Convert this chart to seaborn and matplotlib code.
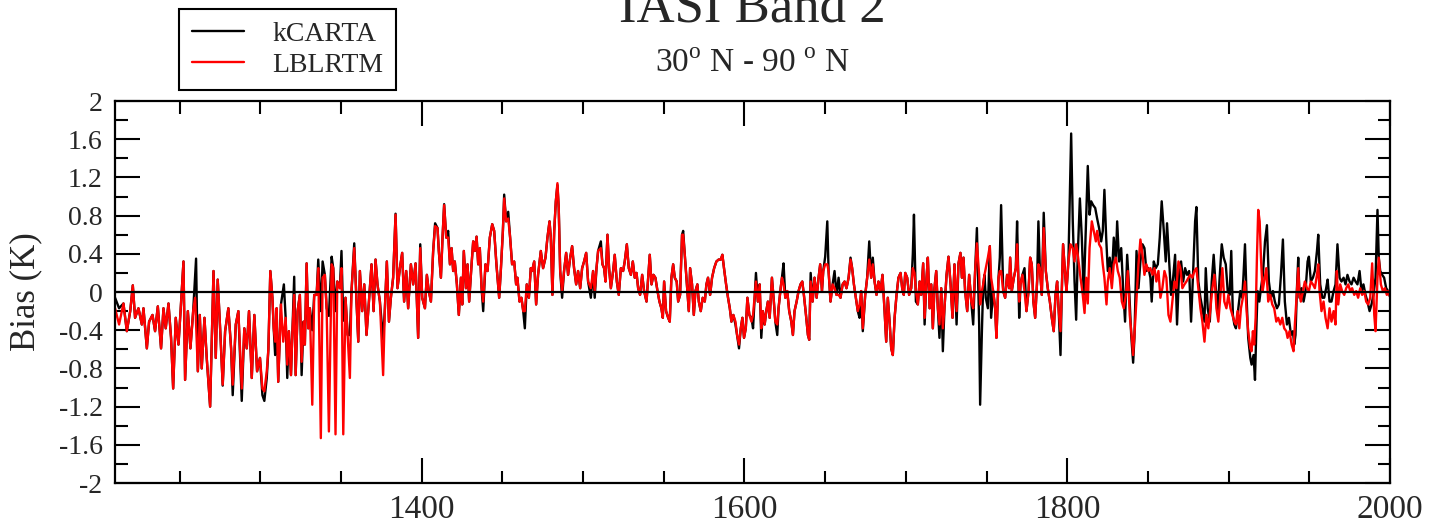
import numpy as np
import pandas as pd
import seaborn as sns
import matplotlib.pyplot as plt
from matplotlib.ticker import MultipleLocator, FuncFormatter

# (wavenumber, bias) vertices
lblrtm_pts = [
    (1210.0, -0.17), (1212.5, -0.34), (1215.2, -0.12), (1217.3, -0.41), (1219.4, -0.20),
    (1221.0, 0.07), (1222.4, -0.27), (1224.5, -0.17), (1226.6, -0.34), (1227.6, -0.17),
    (1229.7, -0.59), (1231.1, -0.31), (1233.2, -0.24), (1234.8, -0.41), (1236.5, -0.15),
    (1238.5, -0.59), (1240.0, -0.17), (1241.4, -0.38), (1243.1, -0.12), (1244.7, -0.48),
    (1246.0, -1.01), (1247.6, -0.27), (1249.3, -0.55), (1250.7, -0.17), (1252.4, 0.32),
    (1253.4, -0.92), (1255.1, -0.20), (1256.7, -0.59), (1258.4, -0.20), (1259.6, -0.06),
    (1261.3, -0.83), (1262.5, -0.24), (1263.7, -0.80), (1265.4, -0.27), (1266.8, -0.69),
    (1268.9, -1.20), (1271.0, 0.22), (1272.4, -0.69), (1273.6, 0.13), (1275.1, -0.38),
    (1276.7, -0.97), (1278.2, -0.41), (1280.2, -0.17), (1281.9, -0.59), (1282.9, -0.97),
    (1284.8, -0.34), (1286.4, -0.20), (1288.5, -1.01), (1290.1, -0.38), (1291.6, -0.59),
    (1293.0, -0.20), (1294.7, -0.90), (1296.3, -0.24), (1298.0, -0.83), (1299.8, -0.69),
    (1301.3, -1.01), (1302.5, -1.04), (1304.0, -0.83), (1305.0, -0.60), (1306.2, 0.22),
    (1307.5, -0.06), (1308.3, -0.38), (1309.2, -0.52), (1310.1, -0.17), (1311.1, -0.94),
    (1312.8, -0.13), (1314.2, -0.52), (1315.7, -0.27), (1316.7, -0.76), (1317.7, -0.41),
    (1319.0, -0.87), (1319.8, -0.45), (1321.0, -0.03), (1321.9, -0.87), (1323.1, -0.20),
    (1324.5, -0.03), (1325.6, -0.73), (1326.8, -0.31), (1327.6, -0.55), (1328.7, 0.30),
    (1329.7, -0.38), (1330.7, -0.17), (1332.2, -1.18), (1333.4, -0.03), (1334.9, -0.03),
    (1335.9, 0.25), (1337.5, -1.53), (1338.6, 0.15), (1340.0, 0.18), (1341.1, -0.17),
    (1342.5, -1.46), (1344.2, 0.29), (1345.2, 0.25), (1346.6, -1.49), (1347.7, 0.11),
    (1349.3, 0.04), (1350.3, 0.25), (1351.4, -1.49), (1352.8, -0.06), (1354.1, -0.45),
    (1355.5, -0.90), (1356.5, 0.01), (1358.2, 0.46), (1359.6, -0.10), (1360.7, -0.52),
    (1361.7, 0.22), (1363.1, -0.20), (1364.4, 0.08), (1365.8, -0.45), (1367.3, -0.10),
    (1368.9, 0.29), (1370.2, -0.20), (1371.4, 0.34), (1372.6, 0.08), (1374.1, -0.10),
    (1376.1, -0.87), (1377.2, -0.17), (1378.4, 0.32), (1379.7, -0.31), (1380.9, -0.06),
    (1382.3, 0.15), (1383.8, 0.81), (1385.0, 0.04), (1386.5, 0.25), (1387.9, 0.41),
    (1389.1, -0.10), (1390.4, 0.22), (1391.6, -0.17), (1393.3, 0.29), (1394.7, 0.08),
    (1396.2, 0.30), (1397.8, -0.48), (1399.1, 0.46), (1400.3, -0.06), (1402.0, -0.17),
    (1403.2, 0.18), (1404.4, 0.01), (1405.7, -0.10), (1407.1, 0.43), (1408.3, 0.69),
    (1409.8, 0.67), (1410.6, 0.43), (1411.9, 0.15), (1412.9, 0.57), (1413.9, 0.91),
    (1415.2, 0.57), (1416.4, 0.57), (1417.5, 0.29), (1418.5, 0.46), (1419.5, 0.22),
    (1420.5, 0.32), (1421.8, 0.08), (1423.0, -0.24), (1424.3, 0.15), (1425.1, -0.13),
    (1426.1, 0.43), (1427.4, 0.04), (1428.4, 0.29), (1429.4, -0.10), (1430.9, 0.29),
    (1431.9, 0.53), (1432.9, 0.43), (1434.0, 0.58), (1435.0, 0.29), (1436.0, 0.46),
    (1437.1, 0.04), (1438.1, -0.10), (1439.5, 0.29), (1440.8, 0.22), (1442.2, 0.57),
    (1443.7, 0.71), (1444.9, 0.64), (1446.3, 0.29), (1448.0, -0.06), (1449.0, 0.22),
    (1450.3, 0.64), (1451.1, 0.98), (1452.3, 0.74), (1453.6, 0.77), (1454.8, 0.57),
    (1456.0, 0.29), (1457.3, 0.32), (1458.5, 0.08), (1459.3, 0.15), (1460.6, -0.10),
    (1461.8, -0.06), (1462.9, -0.20), (1463.9, -0.20), (1465.1, 0.08), (1466.4, -0.06),
    (1467.6, 0.25), (1468.4, 0.22), (1469.7, 0.32), (1470.9, -0.13), (1472.1, 0.18),
    (1473.8, 0.43), (1475.2, 0.25), (1476.7, 0.36), (1477.9, 0.57), (1479.2, 0.74),
    (1480.0, 0.57), (1481.0, -0.03), (1482.1, 0.64), (1483.1, 0.95), (1484.1, 1.14),
    (1484.9, 0.88), (1485.8, 0.22), (1487.0, 0.01), (1488.2, 0.22), (1489.5, 0.41),
    (1490.7, 0.18), (1492.0, 0.36), (1493.2, 0.48), (1494.4, 0.25), (1495.7, 0.08),
    (1496.9, 0.22), (1498.2, 0.04), (1499.4, 0.25), (1500.6, 0.32), (1501.9, 0.41),
    (1503.1, 0.11), (1504.8, 0.04), (1506.2, 0.22), (1507.2, 0.01), (1508.3, 0.25),
    (1509.3, 0.43), (1511.0, 0.46), (1512.0, 0.29), (1513.0, 0.25), (1513.9, 0.11),
    (1515.1, 0.60), (1516.1, 0.25), (1517.2, 0.04), (1518.6, 0.22), (1519.6, 0.39),
    (1520.9, 0.11), (1522.1, -0.03), (1523.4, 0.25), (1524.8, 0.22), (1525.8, 0.32),
    (1527.1, 0.50), (1528.3, 0.25), (1529.6, 0.18), (1530.8, 0.32), (1532.0, 0.15),
    (1533.1, 0.20), (1534.1, 0.04), (1535.3, -0.03), (1536.6, 0.18), (1537.8, 0.01),
    (1539.3, -0.10), (1540.3, 0.15), (1541.3, 0.39), (1542.4, 0.08), (1543.6, 0.18),
    (1544.8, 0.15), (1546.1, 0.01), (1547.3, -0.10), (1548.5, -0.17), (1549.4, -0.27),
    (1550.2, 0.11), (1551.4, -0.20), (1552.7, -0.27), (1553.7, -0.31), (1554.7, 0.15),
    (1555.8, 0.29), (1556.8, 0.15), (1558.0, 0.11), (1558.9, -0.10), (1560.1, -0.03),
    (1561.3, 0.60), (1562.0, 0.60), (1563.0, 0.39), (1564.2, 0.11), (1565.5, -0.20),
    (1566.3, 0.25), (1567.5, 0.08), (1568.6, -0.24), (1569.6, 0.01), (1570.8, 0.08),
    (1571.7, -0.10), (1572.9, -0.20), (1574.1, -0.06), (1575.4, -0.10), (1576.4, 0.08),
    (1577.4, 0.15), (1578.7, -0.03), (1579.9, 0.15), (1581.2, 0.25), (1582.6, 0.32),
    (1584.0, 0.34), (1585.3, 0.34), (1586.3, 0.39), (1587.3, 0.25), (1588.6, 0.08),
    (1589.8, -0.06), (1590.9, -0.17), (1591.9, -0.31), (1593.1, -0.24), (1594.4, -0.31),
    (1595.4, -0.45), (1596.6, -0.55), (1597.7, -0.38), (1598.7, -0.27), (1599.7, -0.48),
    (1600.8, -0.38), (1601.8, -0.06), (1603.0, -0.24), (1604.3, -0.31), (1605.3, -0.24),
    (1607.1, 0.11), (1608.3, -0.10), (1609.4, 0.08), (1610.4, -0.38), (1611.4, -0.20),
    (1612.5, -0.34), (1613.5, -0.20), (1614.5, -0.10), (1615.6, -0.27), (1617.0, 0.15),
    (1618.2, -0.10), (1619.1, -0.31), (1620.3, -0.34), (1621.1, -0.17), (1622.4, 0.04),
    (1623.2, 0.15), (1624.2, 0.08), (1625.3, -0.06), (1626.5, 0.01), (1627.7, -0.20),
    (1629.0, -0.31), (1630.0, -0.45), (1631.0, -0.20), (1632.3, -0.10), (1633.5, 0.01),
    (1634.7, 0.08), (1635.8, 0.11), (1636.8, -0.03), (1638.1, -0.24), (1639.3, -0.45),
    (1640.1, -0.50), (1641.0, 0.11), (1642.2, -0.10), (1643.4, 0.15), (1644.7, -0.06),
    (1645.9, 0.15), (1646.9, 0.29), (1648.0, 0.01), (1648.8, 0.22), (1650.0, 0.29),
    (1651.3, 0.29), (1652.1, 0.22), (1653.3, -0.10), (1654.6, 0.08), (1655.8, 0.04),
    (1657.0, -0.03), (1658.3, -0.03), (1659.5, -0.06), (1660.8, 0.08), (1662.0, 0.11),
    (1663.2, 0.04), (1664.5, 0.15), (1665.7, 0.34), (1666.7, 0.25), (1667.8, 0.08),
    (1669.0, -0.06), (1670.2, -0.20), (1671.3, -0.13), (1672.3, 0.01), (1673.3, -0.38),
    (1674.8, -0.03), (1676.0, 0.15), (1677.3, 0.34), (1678.5, 0.15), (1679.5, 0.29),
    (1680.6, 0.11), (1681.8, -0.03), (1683.0, 0.11), (1684.3, 0.01), (1685.5, 0.18),
    (1686.8, -0.20), (1687.8, -0.52), (1688.8, -0.06), (1689.9, -0.31), (1690.9, -0.59),
    (1691.9, -0.66), (1693.0, -0.27), (1694.2, -0.03), (1695.4, 0.15), (1696.7, 0.20),
    (1697.7, 0.04), (1698.7, -0.03), (1699.6, 0.20), (1700.8, 0.15), (1702.0, -0.03),
    (1703.3, 0.04), (1704.3, 0.25), (1705.3, 0.20), (1706.2, 0.01), (1707.4, -0.13),
    (1708.5, 0.11), (1709.5, -0.03), (1710.7, 0.30), (1711.6, -0.27), (1712.8, 0.15),
    (1713.6, 0.36), (1714.7, -0.17), (1715.7, 0.08), (1716.7, -0.38), (1717.7, 0.04),
    (1718.8, 0.22), (1719.8, -0.17), (1720.8, -0.34), (1721.9, 0.04), (1722.9, -0.38),
    (1723.9, -0.17), (1725.2, 0.18), (1726.4, 0.37), (1727.7, 0.08), (1728.9, -0.27),
    (1730.1, 0.29), (1731.4, -0.20), (1732.6, 0.30), (1733.8, 0.41), (1734.7, 0.15),
    (1735.7, 0.36), (1736.7, 0.01), (1738.0, -0.20), (1739.2, 0.18), (1740.5, -0.10),
    (1741.7, -0.17), (1742.9, 0.22), (1744.0, 0.51), (1745.4, 0.18), (1746.0, -0.13),
    (1747.1, 0.01), (1747.9, 0.08), (1748.7, 0.18), (1749.5, 0.25), (1750.8, 0.36),
    (1752.0, 0.48), (1752.8, 0.15), (1754.1, 0.01), (1755.3, -0.17), (1756.1, -0.48),
    (1757.4, 0.15), (1758.2, 0.22), (1759.0, 0.22), (1760.3, 0.01), (1761.5, -0.06),
    (1762.7, 0.18), (1764.0, 0.04), (1764.6, 0.36), (1765.6, 0.01), (1766.9, 0.15),
    (1768.1, 0.25), (1768.9, 0.50), (1770.2, -0.10), (1771.0, 0.08), (1772.2, 0.18),
    (1773.5, 0.01), (1774.7, -0.20), (1776.0, 0.01), (1777.0, 0.36), (1778.0, 0.29),
    (1779.0, -0.10), (1780.1, -0.27), (1781.3, 0.11), (1782.1, 0.29), (1783.0, 0.25),
    (1784.2, -0.03), (1785.4, 0.67), (1786.7, 0.22), (1787.9, 0.04), (1789.2, -0.10),
    (1790.4, -0.27), (1791.6, -0.41), (1792.7, -0.03), (1793.7, 0.11), (1794.7, -0.20),
    (1795.8, -0.41), (1796.6, 0.01), (1797.4, 0.50), (1798.7, 0.18), (1799.5, 0.01),
    (1800.7, 0.32), (1802.0, 0.50), (1803.4, 0.46), (1804.5, 0.32), (1805.5, 0.50),
    (1806.5, 0.39), (1808.2, 0.15), (1809.6, -0.03), (1810.7, -0.22), (1811.7, 0.15),
    (1812.7, -0.12), (1813.8, 0.46), (1815.2, 0.74), (1816.4, 0.64), (1817.7, 0.53),
    (1818.5, 0.64), (1819.7, 0.50), (1821.0, 0.46), (1822.0, 0.29), (1823.0, 0.15),
    (1824.3, -0.13), (1825.1, 0.11), (1826.3, 0.25), (1827.6, 0.04), (1828.8, 0.29),
    (1830.1, 0.36), (1831.3, 0.22), (1832.5, 0.15), (1833.8, -0.10), (1835.0, -0.17),
    (1836.3, -0.03), (1837.5, 0.22), (1838.7, -0.24), (1840.0, -0.48), (1840.8, -0.66),
    (1841.6, -0.45), (1842.9, -0.06), (1844.1, 0.29), (1845.3, 0.55), (1846.6, 0.39),
    (1847.8, 0.18), (1849.0, 0.29), (1850.3, 0.22), (1851.5, 0.25), (1852.8, 0.18),
    (1854.0, 0.25), (1855.2, 0.11), (1856.5, 0.22), (1857.7, -0.06), (1858.9, 0.04),
    (1860.2, 0.22), (1861.4, 0.15), (1862.7, -0.24), (1863.9, -0.31), (1865.1, -0.10),
    (1866.4, 0.11), (1867.6, 0.04), (1868.9, 0.32), (1870.1, 0.25), (1871.3, 0.04),
    (1872.6, 0.08), (1873.8, 0.11), (1875.1, 0.15), (1876.3, 0.18), (1877.5, 0.15),
    (1878.8, 0.22), (1880.0, 0.25), (1881.2, 0.04), (1882.5, -0.17), (1883.7, -0.31),
    (1885.0, -0.52), (1886.2, -0.24), (1887.4, -0.38), (1888.7, -0.17), (1889.9, 0.04),
    (1891.2, 0.18), (1892.4, -0.17), (1893.6, -0.31), (1894.9, -0.03), (1896.1, 0.25),
    (1897.3, -0.10), (1898.6, -0.17), (1899.8, -0.03), (1901.1, -0.17), (1902.3, -0.24),
    (1903.5, -0.31), (1904.5, -0.34), (1905.5, -0.20), (1906.6, -0.38), (1907.6, -0.17),
    (1908.8, -0.06), (1910.1, 0.11), (1911.1, -0.20), (1912.1, -0.41), (1913.4, -0.59),
    (1914.2, -0.62), (1915.0, -0.41), (1915.8, -0.55), (1916.7, -0.27), (1917.5, 0.36),
    (1918.3, 0.86), (1919.2, 0.74), (1920.0, 0.36), (1921.0, 0.01), (1922.0, 0.11),
    (1923.3, 0.25), (1924.5, -0.10), (1925.8, -0.03), (1927.0, -0.13), (1928.2, -0.17),
    (1929.5, -0.31), (1930.7, -0.27), (1932.0, -0.34), (1933.2, -0.27), (1934.4, -0.38),
    (1935.7, -0.41), (1936.5, -0.48), (1937.7, -0.41), (1939.0, -0.55), (1940.2, -0.62),
    (1941.0, -0.34), (1942.3, 0.01), (1943.1, 0.25), (1943.9, -0.03), (1944.7, -0.10),
    (1946.0, 0.01), (1947.2, 0.11), (1948.5, 0.04), (1949.7, 0.01), (1950.9, 0.11),
    (1952.2, 0.08), (1953.4, 0.04), (1954.7, 0.18), (1955.5, 0.29), (1956.3, 0.01),
    (1957.5, -0.20), (1958.8, -0.10), (1960.0, -0.27), (1961.3, -0.38), (1962.5, -0.17),
    (1963.7, -0.31), (1965.0, -0.20), (1966.2, -0.34), (1967.0, 0.22), (1967.9, -0.13),
    (1969.1, 0.08), (1970.3, 0.01), (1971.6, -0.03), (1972.8, 0.04), (1974.1, 0.08),
    (1975.3, 0.01), (1976.5, 0.04), (1977.8, -0.03), (1979.0, 0.01), (1980.2, -0.06),
    (1981.5, 0.04), (1982.7, -0.03), (1984.0, 0.01), (1985.2, -0.10), (1986.4, -0.13),
    (1987.7, -0.06), (1988.9, 0.30), (1990.2, -0.24), (1991.0, -0.41), (1992.2, 0.15),
    (1993.0, 0.36), (1994.3, 0.08), (1995.5, 0.01), (1996.8, 0.04), (1998.0, -0.03),
    (1998.8, 0.01), (2000.0, -0.05),
]

kcarta_pts = [
    (1210.0, -0.06), (1212.5, -0.17), (1215.2, -0.12), (1217.3, -0.41), (1219.4, -0.20),
    (1221.0, 0.07), (1222.4, -0.27), (1224.5, -0.17), (1226.6, -0.34), (1227.6, -0.17),
    (1229.7, -0.59), (1231.1, -0.31), (1233.2, -0.24), (1234.8, -0.41), (1236.5, -0.15),
    (1238.5, -0.59), (1240.0, -0.17), (1241.4, -0.38), (1243.1, -0.12), (1244.7, -0.48),
    (1246.0, -1.01), (1247.6, -0.27), (1249.3, -0.55), (1250.7, -0.17), (1252.4, 0.32),
    (1253.4, -0.92), (1255.1, -0.20), (1256.7, -0.59), (1258.4, -0.20), (1260.2, 0.35),
    (1261.3, -0.83), (1262.5, -0.24), (1263.7, -0.80), (1265.4, -0.27), (1266.8, -0.69),
    (1268.9, -1.20), (1271.0, 0.22), (1272.4, -0.69), (1273.6, 0.13), (1275.1, -0.38),
    (1276.7, -0.98), (1278.2, -0.41), (1280.2, -0.17), (1281.9, -0.59), (1282.9, -1.08),
    (1284.8, -0.34), (1286.4, -0.20), (1288.5, -1.14), (1290.1, -0.38), (1291.6, -0.59),
    (1293.0, -0.20), (1294.7, -0.90), (1296.3, -0.24), (1298.0, -0.83), (1299.8, -0.69),
    (1301.3, -1.08), (1302.5, -1.14), (1304.0, -0.90), (1305.0, -0.60), (1306.2, 0.22),
    (1307.5, -0.06), (1308.3, -0.38), (1309.2, -0.66), (1310.1, -0.17), (1311.1, -0.94),
    (1312.8, -0.13), (1314.6, 0.08), (1315.7, -0.27), (1316.7, -0.90), (1317.7, -0.41),
    (1319.0, -0.87), (1319.8, -0.45), (1321.0, 0.16), (1321.9, -0.87), (1323.1, -0.20),
    (1324.5, -0.03), (1325.6, -0.87), (1326.8, -0.31), (1327.6, -0.55), (1328.7, 0.30),
    (1329.7, -0.38), (1330.7, -0.17), (1332.2, -0.40), (1333.4, -0.03), (1334.9, -0.03),
    (1335.9, 0.34), (1337.5, -0.20), (1338.6, 0.32), (1340.0, 0.18), (1341.1, -0.17),
    (1342.5, -0.25), (1344.2, 0.37), (1345.2, 0.25), (1346.6, -0.20), (1347.7, 0.11),
    (1349.3, 0.04), (1350.3, 0.43), (1351.4, -0.30), (1352.8, -0.06), (1354.1, -0.45),
    (1355.5, -0.45), (1356.5, 0.01), (1358.2, 0.51), (1359.6, -0.10), (1360.7, -0.52),
    (1361.7, 0.22), (1363.1, -0.20), (1364.4, 0.08), (1365.8, -0.45), (1367.3, -0.10),
    (1368.9, 0.29), (1370.2, -0.20), (1371.4, 0.34), (1372.6, 0.08), (1374.1, -0.10),
    (1376.1, -0.50), (1377.2, -0.17), (1378.4, 0.32), (1379.7, -0.31), (1380.9, -0.06),
    (1382.3, 0.15), (1383.8, 0.82), (1385.0, 0.04), (1386.5, 0.25), (1387.9, 0.41),
    (1389.1, -0.10), (1390.4, 0.22), (1391.6, -0.17), (1393.3, 0.29), (1394.7, 0.08),
    (1396.2, 0.30), (1397.8, -0.48), (1399.1, 0.50), (1400.3, -0.06), (1402.0, -0.17),
    (1403.2, 0.18), (1404.4, 0.01), (1405.7, -0.10), (1407.1, 0.43), (1408.3, 0.72),
    (1409.8, 0.67), (1410.6, 0.43), (1411.9, 0.15), (1412.9, 0.57), (1413.9, 0.92),
    (1415.2, 0.57), (1416.4, 0.64), (1417.5, 0.29), (1418.5, 0.46), (1419.5, 0.22),
    (1420.5, 0.32), (1421.8, 0.08), (1423.0, -0.24), (1424.3, 0.15), (1425.1, -0.13),
    (1426.1, 0.43), (1427.4, 0.04), (1428.4, 0.29), (1429.4, -0.10), (1430.9, 0.29),
    (1431.9, 0.53), (1432.9, 0.43), (1434.0, 0.58), (1435.0, 0.29), (1436.0, 0.46),
    (1437.1, 0.04), (1438.1, -0.20), (1439.5, 0.29), (1440.8, 0.22), (1442.2, 0.57),
    (1443.7, 0.71), (1444.9, 0.64), (1446.3, 0.29), (1448.0, -0.06), (1449.0, 0.22),
    (1450.3, 0.64), (1451.1, 1.02), (1452.3, 0.74), (1453.6, 0.84), (1454.8, 0.57),
    (1456.0, 0.29), (1457.3, 0.32), (1458.5, 0.08), (1459.3, 0.15), (1460.6, -0.10),
    (1461.8, -0.06), (1462.9, -0.20), (1463.9, -0.38), (1465.1, 0.08), (1466.4, -0.06),
    (1467.6, 0.25), (1468.4, 0.22), (1469.7, 0.32), (1470.9, -0.13), (1472.1, 0.18),
    (1473.8, 0.43), (1475.2, 0.25), (1476.7, 0.36), (1477.9, 0.57), (1479.2, 0.74),
    (1480.0, 0.57), (1481.0, -0.03), (1482.1, 0.64), (1483.1, 0.95), (1484.1, 1.12),
    (1484.9, 0.88), (1485.8, 0.22), (1487.0, -0.06), (1488.2, 0.22), (1489.5, 0.41),
    (1490.7, 0.18), (1492.0, 0.36), (1493.2, 0.48), (1494.4, 0.25), (1495.7, 0.08),
    (1496.9, 0.22), (1498.2, 0.04), (1499.4, 0.25), (1500.6, 0.32), (1501.9, 0.41),
    (1503.1, 0.11), (1504.8, -0.06), (1506.2, 0.22), (1507.2, -0.06), (1508.3, 0.25),
    (1509.3, 0.43), (1511.0, 0.53), (1512.0, 0.29), (1513.0, 0.25), (1513.9, 0.11),
    (1515.1, 0.60), (1516.1, 0.25), (1517.2, 0.04), (1518.6, 0.22), (1519.6, 0.39),
    (1520.9, 0.11), (1522.1, -0.03), (1523.4, 0.25), (1524.8, 0.22), (1525.8, 0.32),
    (1527.1, 0.50), (1528.3, 0.25), (1529.6, 0.18), (1530.8, 0.32), (1532.0, 0.15),
    (1533.1, 0.20), (1534.1, 0.04), (1535.3, -0.03), (1536.6, 0.18), (1537.8, 0.01),
    (1539.3, -0.10), (1540.3, 0.15), (1541.3, 0.39), (1542.4, 0.08), (1543.6, 0.18),
    (1544.8, 0.15), (1546.1, 0.01), (1547.3, -0.10), (1548.5, -0.17), (1549.4, -0.27),
    (1550.2, 0.11), (1551.4, -0.20), (1552.7, -0.27), (1553.7, -0.31), (1554.7, 0.15),
    (1555.8, 0.29), (1556.8, 0.15), (1558.0, 0.11), (1558.9, -0.10), (1560.1, -0.03),
    (1561.3, 0.60), (1562.0, 0.64), (1563.0, 0.39), (1564.2, 0.11), (1565.5, -0.20),
    (1566.3, 0.25), (1567.5, 0.08), (1568.6, -0.24), (1569.6, 0.01), (1570.8, 0.08),
    (1571.7, -0.10), (1572.9, -0.20), (1574.1, -0.06), (1575.4, -0.10), (1576.4, 0.08),
    (1577.4, 0.15), (1578.7, -0.03), (1579.9, 0.15), (1581.2, 0.25), (1582.6, 0.32),
    (1584.0, 0.34), (1585.3, 0.34), (1586.3, 0.39), (1587.3, 0.25), (1588.6, 0.08),
    (1589.8, -0.06), (1590.9, -0.17), (1591.9, -0.31), (1593.1, -0.24), (1594.4, -0.34),
    (1595.4, -0.45), (1596.6, -0.59), (1597.7, -0.38), (1598.7, -0.27), (1599.7, -0.48),
    (1600.8, -0.38), (1601.8, -0.06), (1603.0, -0.24), (1604.3, -0.27), (1605.3, -0.38),
    (1607.1, 0.20), (1608.3, -0.10), (1609.4, 0.08), (1610.4, -0.48), (1611.4, -0.20),
    (1612.5, -0.34), (1613.5, -0.20), (1614.5, -0.10), (1615.6, -0.27), (1617.0, 0.15),
    (1618.2, -0.10), (1619.1, -0.31), (1620.3, -0.45), (1621.1, -0.17), (1622.4, 0.04),
    (1623.2, 0.15), (1624.2, 0.30), (1625.3, -0.06), (1626.5, 0.01), (1627.7, -0.20),
    (1629.0, -0.31), (1630.0, -0.45), (1631.0, -0.20), (1632.3, -0.10), (1633.5, 0.01),
    (1634.7, 0.08), (1635.8, 0.11), (1636.8, -0.03), (1638.1, -0.24), (1639.3, -0.45),
    (1640.1, -0.50), (1641.0, 0.20), (1642.2, -0.10), (1643.4, 0.15), (1644.7, -0.06),
    (1645.9, 0.15), (1646.9, 0.29), (1648.0, 0.01), (1648.8, 0.22), (1650.0, 0.37),
    (1651.3, 0.74), (1652.1, 0.22), (1653.3, -0.10), (1654.6, 0.08), (1655.8, 0.22),
    (1657.0, -0.03), (1658.3, 0.15), (1659.5, -0.06), (1660.8, 0.08), (1662.0, 0.11),
    (1663.2, 0.04), (1664.5, 0.15), (1665.7, 0.36), (1666.7, 0.25), (1667.8, 0.08),
    (1669.0, -0.06), (1670.2, -0.20), (1671.3, -0.27), (1672.3, 0.01), (1673.3, -0.41),
    (1674.8, -0.03), (1676.0, 0.15), (1677.3, 0.53), (1678.5, 0.15), (1679.5, 0.36),
    (1680.6, 0.11), (1681.8, -0.03), (1683.0, 0.11), (1684.3, 0.01), (1685.5, 0.18),
    (1686.8, -0.20), (1687.8, -0.52), (1688.8, -0.06), (1689.9, -0.31), (1690.9, -0.59),
    (1691.9, -0.66), (1693.0, -0.27), (1694.2, -0.03), (1695.4, 0.15), (1696.7, 0.20),
    (1697.7, 0.04), (1698.7, -0.03), (1699.6, 0.20), (1700.8, 0.15), (1702.0, -0.03),
    (1703.3, 0.04), (1704.3, 0.40), (1705.0, 0.81), (1706.2, -0.10), (1707.4, -0.13),
    (1708.5, 0.11), (1709.5, -0.03), (1710.7, 0.30), (1711.6, -0.34), (1712.8, 0.15),
    (1713.6, 0.36), (1714.7, -0.17), (1715.7, 0.08), (1716.7, -0.38), (1717.7, 0.04),
    (1718.8, 0.22), (1719.8, -0.17), (1720.8, -0.48), (1721.9, 0.04), (1722.9, -0.62),
    (1723.9, -0.17), (1725.2, 0.18), (1726.4, 0.37), (1727.7, 0.08), (1728.9, -0.27),
    (1730.1, 0.29), (1731.4, -0.34), (1732.6, 0.30), (1733.8, 0.41), (1734.7, 0.15),
    (1735.7, 0.36), (1736.7, 0.01), (1738.0, -0.20), (1739.2, 0.18), (1740.5, -0.10),
    (1741.7, -0.34), (1742.9, 0.22), (1744.0, 0.67), (1745.4, -0.34), (1746.0, -1.18),
    (1747.1, -0.41), (1747.9, 0.08), (1748.7, 0.18), (1749.5, -0.06), (1750.8, -0.17),
    (1752.0, 0.48), (1752.8, -0.27), (1754.1, 0.01), (1755.3, -0.17), (1756.1, -0.48),
    (1757.4, 0.15), (1758.2, 0.36), (1759.0, 0.91), (1760.3, 0.01), (1761.5, -0.06),
    (1762.7, 0.18), (1764.0, 0.04), (1764.6, 0.36), (1765.6, 0.01), (1766.9, 0.15),
    (1768.1, 0.25), (1768.9, 0.74), (1770.2, -0.27), (1771.0, 0.08), (1772.2, 0.18),
    (1773.5, 0.25), (1774.7, -0.20), (1776.0, 0.01), (1777.0, 0.36), (1778.0, 0.29),
    (1779.0, -0.10), (1780.1, -0.27), (1781.3, 0.11), (1782.1, 0.74), (1783.0, 0.25),
    (1784.2, -0.03), (1785.4, 0.83), (1786.7, 0.22), (1787.9, 0.04), (1789.2, -0.10),
    (1790.4, -0.27), (1791.6, -0.41), (1792.7, -0.03), (1793.7, 0.11), (1794.7, -0.20),
    (1795.8, -0.66), (1796.6, 0.01), (1797.4, 0.50), (1798.7, 0.18), (1799.5, 0.01),
    (1800.7, 0.32), (1802.4, 1.66), (1803.4, 0.74), (1804.5, 0.11), (1805.5, -0.29),
    (1806.5, 0.39), (1807.8, 0.98), (1809.0, 0.57), (1810.2, -0.03), (1811.5, 0.67),
    (1812.7, 1.32), (1813.8, 0.81), (1814.8, 0.95), (1816.0, 0.91), (1817.3, 0.88),
    (1818.5, 0.77), (1819.7, 0.67), (1821.0, 0.53), (1822.0, 0.64), (1823.0, 1.07),
    (1824.1, 0.57), (1825.1, 0.22), (1826.3, 0.36), (1827.6, 0.15), (1828.8, 0.57),
    (1830.1, 0.32), (1830.9, 0.74), (1832.1, 0.32), (1833.4, 0.46), (1834.6, 0.04),
    (1835.8, -0.31), (1837.1, 0.39), (1838.3, 0.04), (1839.6, -0.45), (1840.8, -0.74),
    (1841.6, -0.48), (1842.9, 0.43), (1844.1, 0.04), (1845.3, 0.32), (1846.6, 0.50),
    (1847.8, 0.46), (1849.0, 0.22), (1850.3, 0.25), (1851.5, 0.15), (1852.3, -0.10),
    (1853.6, 0.32), (1854.8, 0.25), (1856.1, 0.29), (1857.3, 0.57), (1858.5, 0.95),
    (1859.8, 0.64), (1861.0, 0.32), (1861.8, 0.72), (1863.1, 0.32), (1864.3, -0.03),
    (1865.6, 0.15), (1866.8, 0.39), (1868.0, -0.34), (1869.3, 0.22), (1870.5, 0.32),
    (1871.8, 0.11), (1873.0, 0.25), (1874.2, 0.18), (1875.5, 0.22), (1876.7, -0.31),
    (1877.9, 0.18), (1879.2, 0.74), (1880.0, 0.89), (1881.2, 0.11), (1882.5, -0.06),
    (1883.7, -0.17), (1885.0, -0.31), (1885.8, 0.25), (1887.0, -0.17), (1888.3, -0.31),
    (1889.5, 0.11), (1890.7, 0.39), (1892.0, 0.04), (1893.2, -0.20), (1894.5, 0.18),
    (1895.7, 0.50), (1896.9, 0.36), (1898.2, 0.29), (1899.4, 0.01), (1900.6, -0.03),
    (1901.6, 0.43), (1902.6, -0.24), (1903.5, -0.34), (1904.5, -0.38), (1905.5, -0.24),
    (1907.2, 0.01), (1908.4, -0.06), (1909.2, 0.18), (1910.1, 0.50), (1911.1, -0.06),
    (1912.1, -0.48), (1913.4, -0.69), (1914.2, -0.76), (1915.4, -0.66), (1916.3, -0.92),
    (1917.1, -0.41), (1917.9, 0.01), (1919.0, -0.10), (1920.0, 0.04), (1921.2, 0.18),
    (1922.5, 0.53), (1923.7, 0.70), (1924.9, 0.11), (1926.2, -0.06), (1927.4, 0.01),
    (1928.6, -0.10), (1929.9, -0.17), (1931.1, -0.13), (1932.4, 0.18), (1933.6, 0.55),
    (1934.8, -0.10), (1936.1, -0.34), (1937.3, -0.27), (1938.6, -0.45), (1939.8, -0.41),
    (1940.6, -0.55), (1941.4, -0.45), (1942.3, 0.04), (1943.1, 0.36), (1943.9, -0.06),
    (1945.2, 0.04), (1946.4, -0.10), (1947.6, 0.01), (1948.9, 0.32), (1949.7, 0.37),
    (1950.9, 0.11), (1952.2, 0.15), (1953.4, 0.22), (1954.7, 0.43), (1955.5, 0.60),
    (1956.7, 0.08), (1958.0, -0.06), (1959.2, -0.06), (1960.4, 0.04), (1961.3, 0.13),
    (1962.5, -0.10), (1963.7, -0.10), (1965.0, 0.01), (1966.2, 0.08), (1967.4, 0.50),
    (1968.7, 0.15), (1969.9, 0.11), (1971.2, 0.15), (1972.4, 0.08), (1973.6, 0.18),
    (1974.9, 0.11), (1976.1, 0.08), (1977.4, 0.15), (1978.6, 0.11), (1979.8, 0.08),
    (1981.1, 0.22), (1982.3, 0.01), (1983.5, 0.08), (1984.8, -0.03), (1986.0, -0.10),
    (1987.3, -0.20), (1988.5, -0.13), (1989.7, -0.03), (1991.0, 0.15), (1992.2, 0.86),
    (1993.0, 0.36), (1993.9, 0.22), (1995.1, 0.18), (1996.3, 0.15), (1997.6, 0.04),
    (1998.8, 0.01), (2000.0, -0.05),
]

series_names = ['kCARTA', 'LBLRTM']
series_colors = ['black', 'red']
y_ticks = [-2, -1.6, -1.2, -0.8, -0.4, 0, 0.4, 0.8, 1.2, 1.6, 2]
x_ticks = [1400, 1600, 1800, 2000]

sns.set_style('ticks')
plt.rcParams['font.family'] = ['Liberation Serif', 'DejaVu Serif']
plt.rcParams['mathtext.fontset'] = 'custom'
plt.rcParams['mathtext.rm'] = 'Liberation Serif'
plt.rcParams['axes.unicode_minus'] = False

frames = []
for name, pts in zip(series_names, [kcarta_pts, lblrtm_pts]):
    d = pd.DataFrame(pts, columns=['wn', 'bias'])
    d['model'] = name
    frames.append(d)
df = pd.concat(frames, ignore_index=True)

fig = plt.figure(figsize=(14.31, 5.24), dpi=100)
ax = fig.add_axes([0.0804, 0.0782, 0.8910, 0.7290])

sns.lineplot(data=df, x='wn', y='bias', hue='model', hue_order=series_names,
             palette=series_colors, estimator=None, sort=False, lw=1.7, ax=ax)
ax.axhline(0, color='black', lw=1.6, zorder=5)

ax.set_xlim(1210, 2000)
ax.set_ylim(-2, 2)
ax.set_xticks(x_ticks)
ax.set_yticks(y_ticks)
ax.xaxis.set_minor_locator(MultipleLocator(50))
ax.yaxis.set_minor_locator(MultipleLocator(0.2))
ax.yaxis.set_major_formatter(FuncFormatter(lambda v, p: '%g' % round(v, 1)))
ax.tick_params(which='both', direction='in', top=True, right=True, width=1.5, color='black')
ax.tick_params(which='major', length=18)
ax.tick_params(which='minor', length=9)
ax.tick_params(axis='x', which='major', labelsize=24, pad=8)
ax.tick_params(axis='y', which='major', labelsize=20, pad=9)
for s in ax.spines.values():
    s.set_linewidth(1.6)
    s.set_color('black')

ax.set_xlabel('')
ax.set_ylabel('Bias (K)', fontsize=25)
ax.yaxis.set_label_coords(-0.057, 0.5)

handles, labels = ax.get_legend_handles_labels()
leg = ax.legend(handles, labels, loc='upper left', bbox_to_anchor=(179 / 1431, 1 - 9 / 524),
                bbox_transform=fig.transFigure, borderaxespad=0, fontsize=20,
                frameon=True, fancybox=False, edgecolor='black', framealpha=1,
                handlelength=1.9, handletextpad=1.0, labelspacing=0.2, borderpad=0.45)
leg.get_frame().set_linewidth(1.5)

fig.text(0.526, 1 - 21.7 / 524, 'IASI Band 2', ha='center', va='baseline', fontsize=38)
fig.text(0.526, 1 - 71.7 / 524, r'30$^{\rm o}$ N - 90 $^{\rm o}$ N', ha='center',
         va='baseline', fontsize=24)

fig.savefig('out.png', dpi=100)
